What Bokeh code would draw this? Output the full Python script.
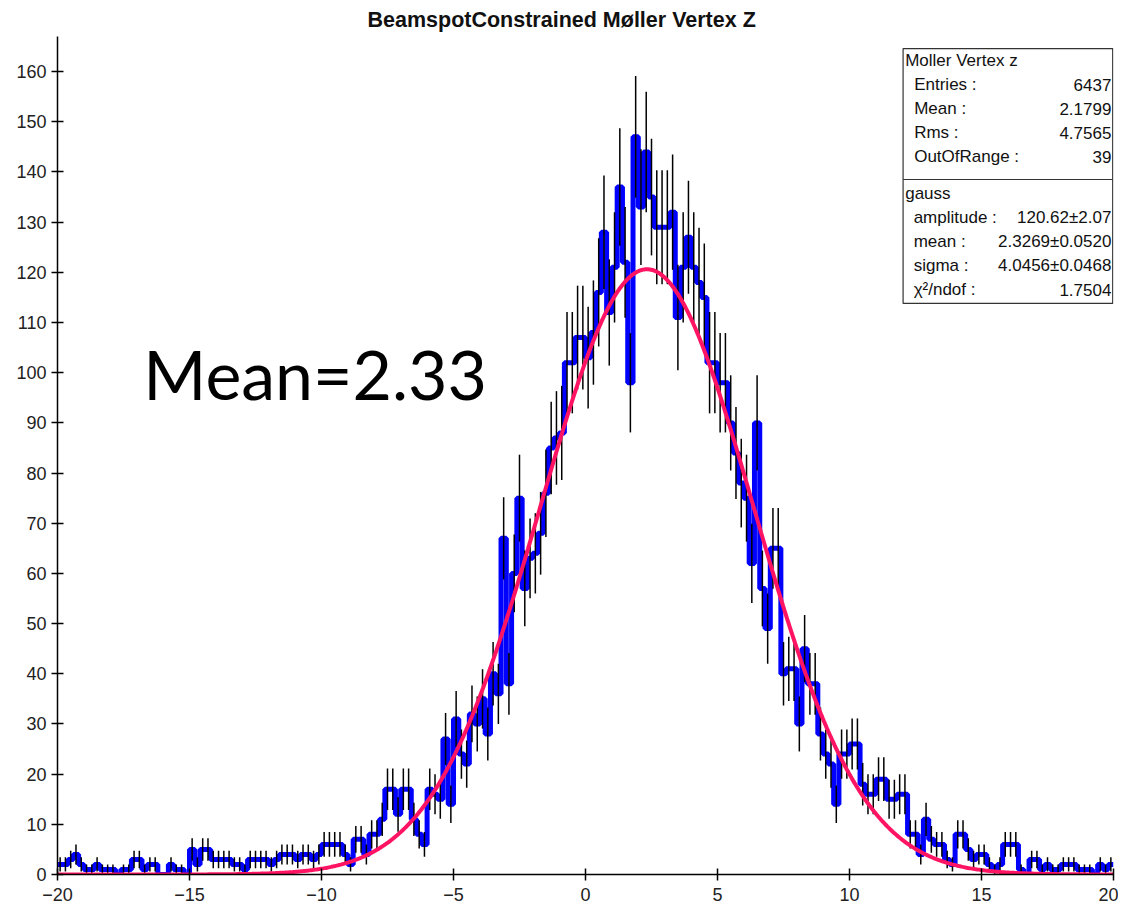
import numpy as np
from bokeh.plotting import figure
from bokeh.models import FixedTicker, Range1d
from bokeh.core.properties import value
from bokeh.embed import file_html
from bokeh.resources import INLINE

# ---------------- data ----------------
x_min, x_max, n_bins = -20.0, 20.0, 200
counts = [
    2, 2, 3, 4, 2, 1, 1, 2, 1, 1,
    1, 0, 1, 1, 3, 3, 1, 2, 2, 0,
    0, 2, 1, 1, 0, 5, 2, 5, 5, 3,
    3, 3, 3, 2, 2, 1, 3, 3, 3, 3,
    2, 3, 4, 4, 4, 3, 4, 4, 3, 4,
    6, 6, 6, 6, 4, 2, 7, 7, 4, 8,
    8, 11, 17, 17, 12, 17, 17, 11, 8, 6,
    17, 16, 15, 27, 14, 31, 24, 22, 32, 30,
    35, 28, 40, 36, 67, 38, 60, 75, 57, 63,
    64, 68, 76, 85, 87, 88, 102, 102, 107, 107,
    103, 108, 116, 128, 112, 121, 137, 122, 98, 147,
    133, 144, 135, 129, 129, 129, 132, 111, 121, 127,
    121, 118, 115, 102, 102, 98, 98, 90, 84, 78,
    75, 62, 90, 57, 49, 65, 65, 40, 41, 41,
    30, 45, 38, 38, 28, 24, 22, 14, 24, 24,
    26, 26, 18, 16, 16, 19, 19, 15, 15, 16,
    16, 8, 8, 4, 11, 7, 6, 6, 3, 2,
    8, 8, 5, 3, 4, 4, 2, 1, 2, 6,
    6, 6, 1, 0, 3, 3, 1, 2, 1, 1,
    2, 2, 2, 1, 1, 1, 0, 2, 1, 2,
]
fit_amplitude = 120.62
fit_mean = 2.3269
fit_sigma = 4.0456

x_ticks = [-20, -15, -10, -5, 0, 5, 10, 15, 20]
y_ticks = [0, 10, 20, 30, 40, 50, 60, 70, 80, 90, 100, 110, 120, 130, 140, 150, 160]

title_text = "BeamspotConstrained Møller Vertex Z"
annotation_text = "Mean=2.33"
stats_header = "Moller Vertex z"
stats_labels = ["Entries :", "Mean :", "Rms :", "OutOfRange :"]
stats_values = ["6437", "2.1799", "4.7565", "39"]
fit_header = "gauss"
fit_labels = ["amplitude :", "mean :", "sigma :", "χ²/ndof :"]
fit_values = ["120.62±2.07", "2.3269±0.0520", "4.0456±0.0468", "1.7504"]

# ---------------- figure ----------------
p = figure(width=1118, height=904, output_backend="svg", toolbar_location=None,
           x_range=Range1d(x_min, x_max), y_range=Range1d(0, 167.0),
           min_border_left=57, min_border_right=5, min_border_top=32,
           min_border_bottom=30)
p.title.text = title_text
p.title.align = "left"
p.title.offset = 310
p.title.text_font = "Liberation Sans"
p.title.text_font_size = "21.5px"
p.title.text_font_style = "bold"
p.title.text_color = "#111111"

p.xgrid.visible = False
p.ygrid.visible = False
p.outline_line_color = None
p.background_fill_color = "white"

for ax in (p.xaxis[0], p.yaxis[0]):
    ax.axis_line_color = "black"
    ax.axis_line_width = 1.5
    ax.major_tick_line_color = "black"
    ax.major_tick_line_width = 1.5
    ax.major_tick_in = 6
    ax.major_tick_out = 6
    ax.minor_tick_line_color = None
    ax.major_label_text_font = "Liberation Sans"
    ax.major_label_text_font_size = "18px"
    ax.major_label_text_color = "#222222"

p.xaxis[0].ticker = FixedTicker(ticks=x_ticks)
p.yaxis[0].ticker = FixedTicker(ticks=y_ticks)
p.xaxis[0].major_label_standoff = 7
p.yaxis[0].major_label_standoff = 5

# ---------------- histogram ----------------
edges = np.linspace(x_min, x_max, n_bins + 1)
c = np.array(counts, dtype=float)
centers = 0.5 * (edges[:-1] + edges[1:])
step_y = np.append(c, c[-1])
p.step(edges, step_y, mode="after", line_color="#0000ff", line_width=5)

mask = c > 0
err = np.sqrt(c[mask])
p.segment(x0=centers[mask], y0=c[mask] - err, x1=centers[mask], y1=c[mask] + err,
          line_color="black", line_width=1.5)

# ---------------- gaussian fit ----------------
xf = np.linspace(x_min, x_max, 800)
yf = fit_amplitude * np.exp(-0.5 * ((xf - fit_mean) / fit_sigma) ** 2)
p.line(xf, yf, line_color="#ff1464", line_width=4)

# ---------------- big annotation ----------------
p.text(x=[-16.75], y=[99.8], text=[annotation_text], text_font=value("Lato"),
       text_font_size="68px", text_color="black", text_baseline="alphabetic",
       text_align="left")

# ---------------- stats box ----------------
bx_l, bx_r, bx_t, bx_b, bx_div = 12.03, 19.97, 164.6, 113.8, 138.5
p.quad(left=[bx_l], right=[bx_r], top=[bx_t], bottom=[bx_b],
       fill_color="white", line_color="#333333", line_width=1.2)
p.segment(x0=[bx_l], y0=[bx_div], x1=[bx_r], y1=[bx_div],
          line_color="#333333", line_width=1.2)

row_y_top = [157.4, 152.6, 147.8, 143.0]
row_y_bot = [130.9, 126.1, 121.3, 116.5]
font_kw = dict(text_font=value("Liberation Sans"), text_font_size="17px",
               text_color="#111111", text_baseline="middle")
p.text(x=[bx_l + 0.08, bx_l + 0.08], y=[162.2, 135.7], text=[stats_header, fit_header],
       text_align="left", **font_kw)
p.text(x=[bx_l + 0.42] * 4, y=row_y_top, text=stats_labels, text_align="left", **font_kw)
p.text(x=[19.92] * 4, y=row_y_top, text=stats_values, text_align="right", **font_kw)
p.text(x=[bx_l + 0.40] * 4, y=row_y_bot, text=fit_labels, text_align="left", **font_kw)
p.text(x=[19.92] * 4, y=row_y_bot, text=fit_values, text_align="right", **font_kw)

open("out.html", "w").write(file_html(p, INLINE))
